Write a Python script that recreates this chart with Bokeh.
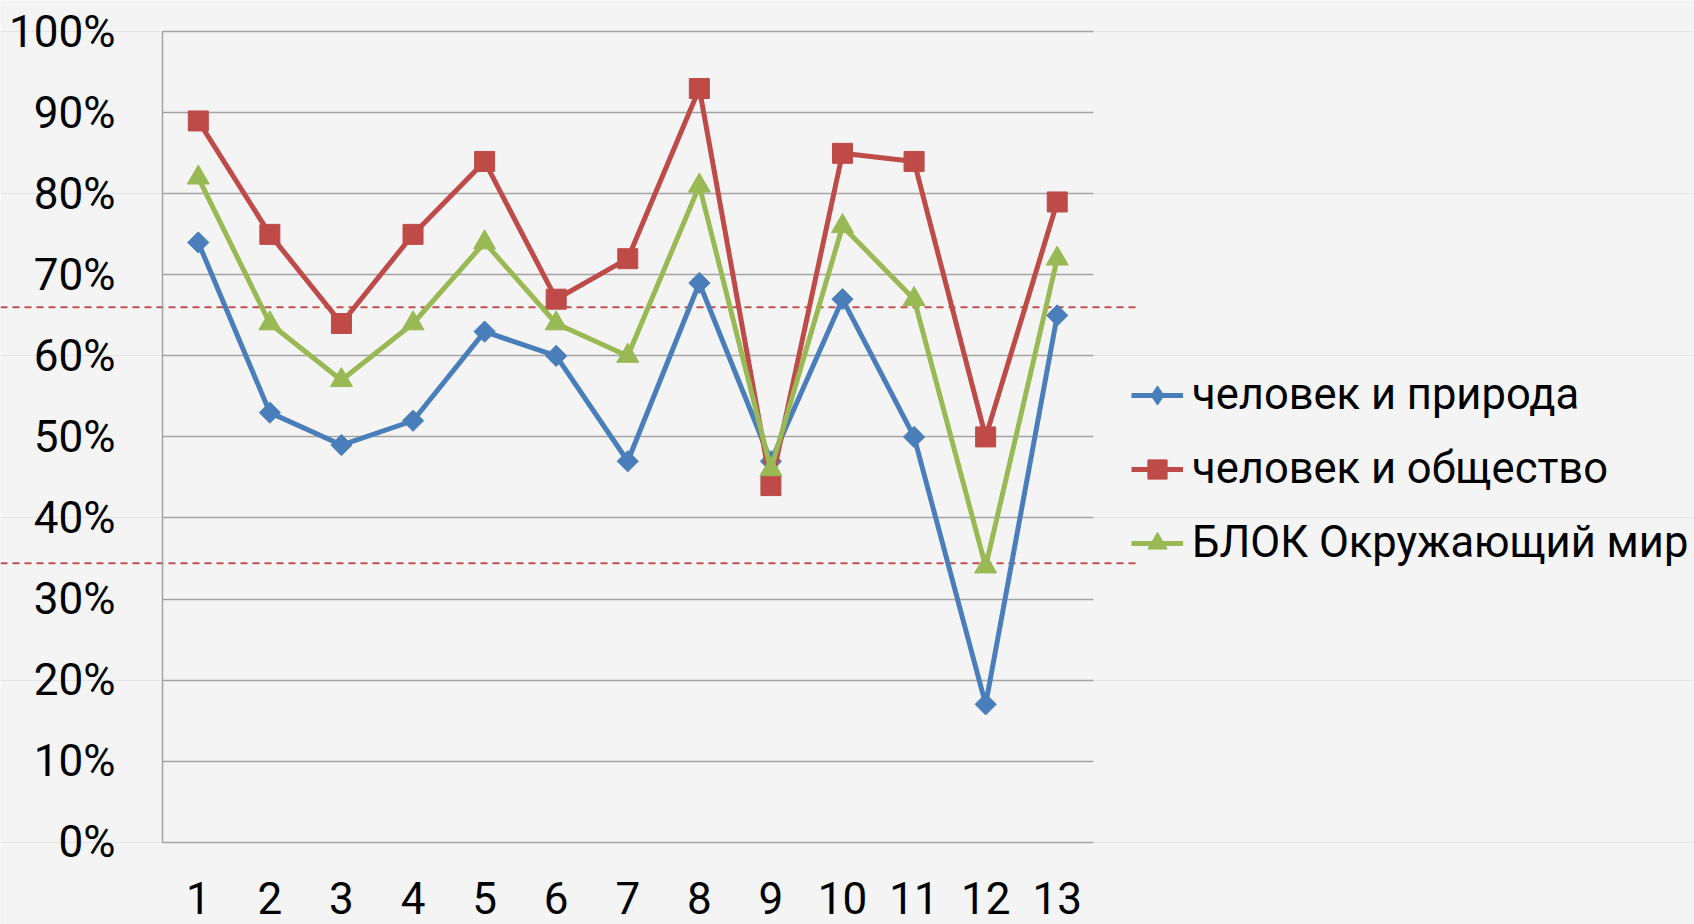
import numpy as np
from bokeh.plotting import figure
from bokeh.models import (Range1d, LinearAxis, FixedTicker, NumeralTickFormatter,
                          Legend, LegendItem, Grid, ColumnDataSource)
from bokeh.embed import file_html
from bokeh.resources import INLINE

categories = list(range(1, 14))
nature = [0.74, 0.53, 0.49, 0.52, 0.63, 0.60, 0.47, 0.69, 0.47, 0.67, 0.50, 0.17, 0.65]
society = [0.89, 0.75, 0.64, 0.75, 0.84, 0.67, 0.72, 0.93, 0.44, 0.85, 0.84, 0.50, 0.79]
block = [0.82, 0.64, 0.57, 0.64, 0.74, 0.64, 0.60, 0.81, 0.46, 0.76, 0.67, 0.34, 0.72]
series_names = ["человек и природа", "человек и общество", "БЛОК Окружающий мир"]
y_ticks = [0.0, 0.1, 0.2, 0.3, 0.4, 0.5, 0.6, 0.7, 0.8, 0.9, 1.0]
thresholds = [0.66, 0.344]

FONT = "Roboto"
BG = "#F4F4F4"
GRID = "#A3A3A3"

x_start, x_end = -1.7632, 21.903
p = figure(frame_width=1694, frame_height=924,
           x_range=Range1d(x_start, x_end), y_range=Range1d(-0.10169, 1.03863),
           output_backend="svg", toolbar_location=None, min_border=0,
           y_axis_location=None, x_axis_location="below",
           background_fill_color=BG, border_fill_color=BG, outline_line_color=None)

# x axis, drawn at the 0% level inside the frame
p.xaxis.fixed_location = 0
p.xaxis.ticker = FixedTicker(ticks=categories)
p.xaxis.axis_line_color = None
p.xaxis.major_tick_line_color = None
p.xaxis.minor_tick_line_color = None
p.xaxis.major_label_standoff = 34
p.xaxis.major_label_text_font = FONT
p.xaxis.major_label_text_font_size = "44px"
p.xaxis.major_label_text_color = "black"
p.xgrid.visible = False

# y axis placed at the category-axis start
yaxis = LinearAxis(fixed_location=0.5, ticker=FixedTicker(ticks=y_ticks),
                   formatter=NumeralTickFormatter(format="0%"), bounds=(0, 1),
                   axis_line_color=GRID, axis_line_width=1.5,
                   major_tick_line_color=None, minor_tick_line_color=None,
                   major_label_standoff=41, major_label_text_font=FONT,
                   major_label_text_font_size="44px", major_label_text_color="black")
p.add_layout(yaxis, "left")

grid = Grid(dimension=1, ticker=FixedTicker(ticks=y_ticks),
            grid_line_color=GRID, grid_line_width=1.5)
try:
    grid.cross_bounds = (0.5, 13.5)
    p.add_layout(grid)
except AttributeError:
    p.segment(x0=[0.5] * len(y_ticks), x1=[13.5] * len(y_ticks), y0=y_ticks, y1=y_ticks,
              line_color=GRID, line_width=1.5)

# threshold dashed lines
p.segment(x0=[x_start] * len(thresholds), x1=[14.135] * len(thresholds),
          y0=thresholds, y1=thresholds, line_color="#C0504D", line_width=2,
          line_dash="7 5")

colors = ["#4A7EBB", "#BE4B48", "#98B954"]
markers = ["square", "square", "triangle"]
legend_markers = ["diamond", "square", "triangle"]
angles = [np.pi / 4, 0.0, 0.0]
sizes = [15, 20, 22]
legend_sizes = [23, 20, 22]
items = []
for name, vals, c, m, lm, a, s, ls in zip(series_names, [nature, society, block], colors,
                                          markers, legend_markers, angles, sizes, legend_sizes):
    src = ColumnDataSource(dict(x=categories, y=vals))
    ln = p.line("x", "y", source=src, line_color=c, line_width=5)
    p.scatter("x", "y", source=src, marker=m, angle=a, size=s, fill_color=c, line_color=c)
    # legend proxy glyph (no visible data)
    proxy = p.scatter(x=[np.nan], y=[np.nan], marker=lm, size=ls, fill_color=c, line_color=c)
    items.append(LegendItem(label=name, renderers=[ln, proxy]))

legend = Legend(items=items, location=(1131, 356), orientation="vertical",
                glyph_width=52, glyph_height=48, label_height=48, spacing=23,
                label_standoff=9, padding=0, margin=0,
                border_line_color=None, background_fill_alpha=0,
                label_text_font=FONT, label_text_font_size="43.5px",
                label_text_color="black")
p.add_layout(legend)

open("out.html", "w").write(file_html(p, INLINE))
